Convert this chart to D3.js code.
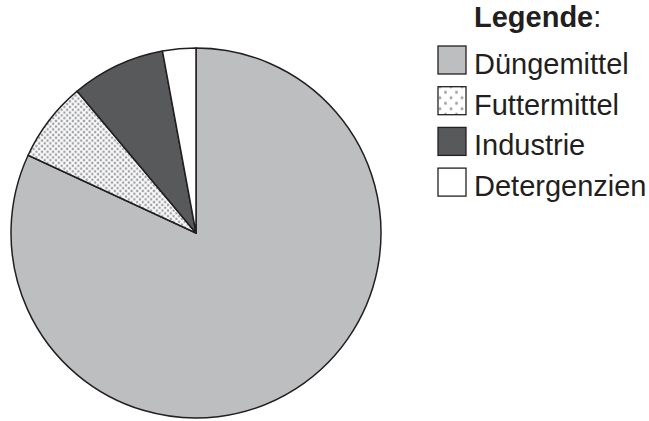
<!DOCTYPE html>
<html>
  <head>
    <meta charset="UTF-8">
    <title>Legende Pie</title>
    <script src="https://cdn.jsdelivr.net/npm/d3@7"></script>
    <style>
      body { margin: 0; background: #fff; }
      text { font-family: "Liberation Sans", Arial, sans-serif; fill: #231f20; }
    </style>
  </head>
  <body>
    <svg width="649" height="421"></svg>
    <script>
    // data (percent)
    var categories = ["Düngemittel", "Futtermittel", "Industrie", "Detergenzien"];
    var values = [81.9, 7.0, 8.2, 2.9];
    var fills = ["#bcbec0", "url(#dots)", "#58595b", "#ffffff"];
    var legendFills = ["#bcbec0", "url(#dotsBig)", "#58595b", "#ffffff"];

    var svg = d3.select("svg");
    var cx = 196, cy = 233, radius = 185;

    var defs = svg.append("defs");
    function makeDots(id, size, r) {
        var p = defs.append("pattern").attr("id", id)
            .attr("patternUnits", "userSpaceOnUse")
            .attr("width", size).attr("height", size);
        p.append("rect").attr("width", size).attr("height", size).attr("fill", "#fff");
        [[0, 0], [size, 0], [0, size], [size, size], [size / 2, size / 2]].forEach(function (c) {
            p.append("circle").attr("cx", c[0]).attr("cy", c[1]).attr("r", r).attr("fill", "#9fa1a4");
        });
    }
    makeDots("dots", 5.6, 1.35);
    makeDots("dotsBig", 11, 1.5);

    var pie = d3.pie().sort(null).value(function (d) { return d; });
    var arc = d3.arc().innerRadius(0).outerRadius(radius);

    var g = svg.append("g").attr("transform", "translate(" + cx + "," + cy + ")");
    g.selectAll("path")
        .data(pie(values))
        .enter().append("path")
        .attr("d", arc)
        .attr("fill", function (d, i) { return fills[i]; })
        .attr("stroke", "#231f20")
        .attr("stroke-width", 1.5)
        .attr("stroke-linejoin", "round");

    // legend
    var lx = 438, ly = 46, step = 40.7, box = 28;
    var title = svg.append("text").attr("x", 474).attr("y", 27).style("font-size", "29px");
    title.append("tspan").style("font-weight", "bold").text("Legende");
    title.append("tspan").text(":");

    var items = svg.selectAll("g.item")
        .data(categories)
        .enter().append("g")
        .attr("class", "item")
        .attr("transform", function (d, i) { return "translate(0," + (ly + i * step) + ")"; });

    items.append("rect")
        .attr("x", lx).attr("y", 0)
        .attr("width", box).attr("height", box)
        .attr("fill", function (d, i) { return legendFills[i]; })
        .attr("stroke", "#231f20")
        .attr("stroke-width", 1.3);

    items.append("text")
        .attr("x", 474).attr("y", 28)
        .style("font-size", "29px")
        .text(function (d) { return d; });
    </script>
  </body>
</html>
